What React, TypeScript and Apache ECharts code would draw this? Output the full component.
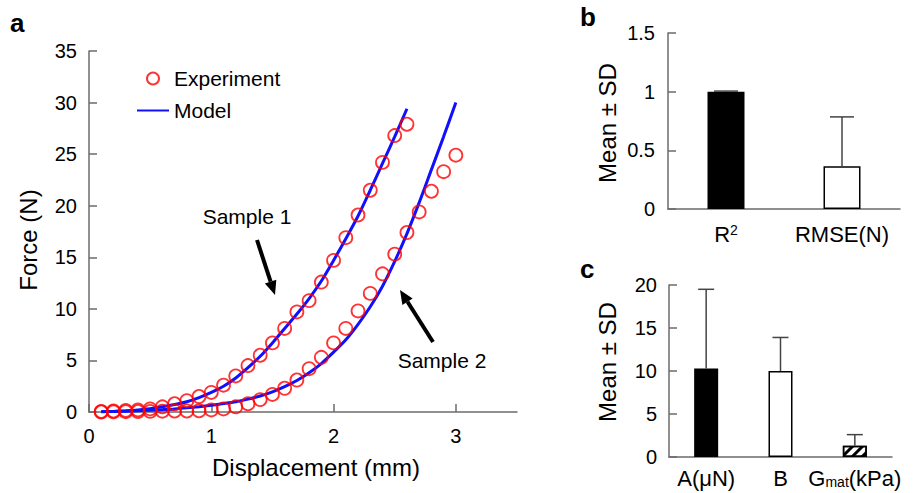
import React, { useEffect, useRef } from "react";
import * as echarts from "echarts";

// ---------- Data ----------
const sample1Disp = [0.1, 0.2, 0.3, 0.4, 0.5, 0.6, 0.7, 0.8, 0.9, 1.0, 1.1, 1.2, 1.3, 1.4, 1.5, 1.6, 1.7, 1.8, 1.9, 2.0, 2.1, 2.2, 2.3, 2.4, 2.5, 2.6];
const sample1Exp = [0.05, 0.1, 0.15, 0.2, 0.3, 0.5, 0.8, 1.1, 1.5, 1.9, 2.6, 3.5, 4.5, 5.5, 6.7, 8.1, 9.7, 10.8, 12.6, 14.7, 16.9, 19.1, 21.5, 24.2, 26.8, 27.9];
const sample1Model = [0.02, 0.06, 0.12, 0.2, 0.32, 0.5, 0.72, 1.0, 1.4, 1.9, 2.5, 3.3, 4.3, 5.4, 6.7, 8.1, 9.5, 11.0, 12.7, 14.7, 16.8, 19.0, 21.5, 24.1, 26.7, 29.4];

const sample2Disp = [0.1, 0.2, 0.3, 0.4, 0.5, 0.6, 0.7, 0.8, 0.9, 1.0, 1.1, 1.2, 1.3, 1.4, 1.5, 1.6, 1.7, 1.8, 1.9, 2.0, 2.1, 2.2, 2.3, 2.4, 2.5, 2.6, 2.7, 2.8, 2.9, 3.0];
const sample2Exp = [0.0, 0.02, 0.03, 0.05, 0.06, 0.08, 0.1, 0.1, 0.12, 0.2, 0.3, 0.5, 0.8, 1.2, 1.7, 2.3, 3.1, 4.2, 5.3, 6.7, 8.1, 9.8, 11.5, 13.4, 15.3, 17.4, 19.4, 21.4, 23.3, 24.9];
const sample2Model = [0.02, 0.05, 0.08, 0.12, 0.17, 0.23, 0.3, 0.4, 0.52, 0.66, 0.82, 1.0, 1.25, 1.55, 1.95, 2.45, 3.05, 3.8, 4.7, 5.8, 7.0, 8.5, 10.2, 12.2, 14.6, 17.3, 20.3, 23.5, 26.7, 30.0];

const xTicks = [0, 1, 2, 3];

const bCategories = ["R²", "RMSE(N)"];
const bMeans = [1.0, 0.365];
const bSD = [0.005, 0.42];

const cCategories = ["A(μN)", "B", "Gmat(kPa)"];
const cMeans = [10.3, 10.0, 1.3];
const cSD = [9.2, 3.9, 1.3];

const FONT = "'Liberation Sans', Arial, sans-serif";
const AXIS_COLOR = "#6b6b6b";

const zip = (xs: number[], ys: number[]) => xs.map((x, i) => [x, ys[i]]);

function errorBarRenderer(cap: number) {
  return (params: any, api: any) => {
    const i = api.value(0);
    const m = api.value(1);
    const s = api.value(2);
    const p0 = api.coord([i, m]);
    const p1 = api.coord([i, m + s]);
    const style = { stroke: "#444", lineWidth: 1.5 };
    return {
      type: "group",
      children: [
        { type: "line", shape: { x1: p0[0], y1: p0[1], x2: p1[0], y2: p1[1] }, style },
        { type: "line", shape: { x1: p1[0] - cap / 2, y1: p1[1], x2: p1[0] + cap / 2, y2: p1[1] }, style },
      ],
    };
  };
}

export default function App() {
  const ref = useRef<HTMLDivElement>(null);
  useEffect(() => {
    if (!ref.current) return;
    const chart = echarts.init(ref.current, null, { renderer: "svg" });

    const axisLine = { show: true, lineStyle: { color: AXIS_COLOR, width: 1.5 } };
    const axisTickIn = { show: true, inside: true, length: 8, lineStyle: { color: AXIS_COLOR, width: 1.5 } };

    const bBarColors = ["#000", "#fff"];
    const cBarStyles: any[] = [
      { color: "#000" },
      { color: "#fff" },
      {
        color: "#fff",
        decal: { symbol: "rect", color: "#000", dashArrayX: [1, 0], dashArrayY: [3, 4], rotation: -Math.PI / 4 },
      },
    ];

    const option: any = {
      animation: false,
      textStyle: { fontFamily: FONT },
      grid: [
        { left: 89, top: 51, width: 428, height: 361 },
        { left: 668, top: 33, width: 232, height: 176 },
        { left: 669, top: 285, width: 223, height: 172 },
      ],
      legend: {
        data: [
          { name: "Experiment" },
          { name: "Model", itemStyle: { opacity: 0 } },
        ],
        orient: "vertical",
        left: 136,
        top: 68,
        padding: 0,
        itemWidth: 32,
        itemHeight: 12,
        itemGap: 11,
        selectedMode: false,
        textStyle: { fontSize: 21, color: "#000", fontFamily: FONT },
      },
      xAxis: [
        {
          gridIndex: 0,
          type: "value",
          min: 0,
          max: 3.5,
          interval: 1,
          axisLine,
          axisTick: { ...axisTickIn, customValues: xTicks },
          axisLabel: { customValues: xTicks, fontSize: 20, color: "#000", margin: 14, fontFamily: FONT },
          splitLine: { show: false },
        },
        {
          gridIndex: 1,
          type: "category",
          data: bCategories,
          axisLine,
          axisTick: { show: false },
          axisLabel: {
            interval: 0,
            fontSize: 22,
            color: "#000",
            margin: 14,
            fontFamily: FONT,
            formatter: (v: string) => (v === "R²" ? "R{sup|2}" : v),
            rich: { sup: { fontSize: 14, verticalAlign: "top", color: "#000", fontFamily: FONT } },
          },
        },
        {
          gridIndex: 2,
          type: "category",
          data: cCategories,
          axisLine,
          axisTick: { show: false },
          axisLabel: {
            interval: 0,
            hideOverlap: false,
            fontSize: 22,
            color: "#000",
            margin: 10,
            fontFamily: FONT,
            formatter: (v: string) => (v === "Gmat(kPa)" ? "G{sub|mat}(kPa)" : v),
            rich: { sub: { fontSize: 14, verticalAlign: "bottom", color: "#000", fontFamily: FONT, padding: [8, 0, 0, 0] } },
          },
        },
      ],
      yAxis: [
        {
          gridIndex: 0,
          type: "value",
          min: 0,
          max: 35,
          interval: 5,
          axisLine,
          axisTick: axisTickIn,
          axisLabel: { fontSize: 20, color: "#000", margin: 12, fontFamily: FONT },
          splitLine: { show: false },
        },
        {
          gridIndex: 1,
          type: "value",
          min: 0,
          max: 1.5,
          interval: 0.5,
          axisLine,
          axisTick: axisTickIn,
          axisLabel: { fontSize: 20, color: "#000", margin: 13, fontFamily: FONT },
          splitLine: { show: false },
        },
        {
          gridIndex: 2,
          type: "value",
          min: 0,
          max: 20,
          interval: 5,
          axisLine,
          axisTick: axisTickIn,
          axisLabel: { fontSize: 20, color: "#000", margin: 12, fontFamily: FONT },
          splitLine: { show: false },
        },
      ],
      series: [
        {
          name: "Model",
          type: "line",
          xAxisIndex: 0,
          yAxisIndex: 0,
          data: zip(sample1Disp, sample1Model),
          symbol: "none",
          smooth: 0.3,
          lineStyle: { color: "#1010ff", width: 3 },
          itemStyle: { color: "#1010ff" },
          z: 2,
        },
        {
          name: "Model",
          type: "line",
          xAxisIndex: 0,
          yAxisIndex: 0,
          data: zip(sample2Disp, sample2Model),
          symbol: "none",
          smooth: 0.3,
          lineStyle: { color: "#1010ff", width: 3 },
          itemStyle: { color: "#1010ff" },
          z: 2,
        },
        {
          name: "Experiment",
          type: "scatter",
          xAxisIndex: 0,
          yAxisIndex: 0,
          data: zip(sample1Disp, sample1Exp),
          symbol: "circle",
          symbolSize: 13,
          itemStyle: { color: "rgba(0,0,0,0)", borderColor: "#ff0000", borderWidth: 1.8 },
          z: 3,
        },
        {
          name: "Experiment",
          type: "scatter",
          xAxisIndex: 0,
          yAxisIndex: 0,
          data: zip(sample2Disp, sample2Exp),
          symbol: "circle",
          symbolSize: 13,
          itemStyle: { color: "rgba(0,0,0,0)", borderColor: "#ff0000", borderWidth: 1.8 },
          z: 3,
        },
        {
          type: "bar",
          xAxisIndex: 1,
          yAxisIndex: 1,
          barWidth: 37,
          data: bMeans.map((v, i) => ({ value: v, itemStyle: { color: bBarColors[i], borderColor: "#000", borderWidth: 1.5 } })),
        },
        {
          type: "custom",
          xAxisIndex: 1,
          yAxisIndex: 1,
          data: bMeans.map((v, i) => [i, v, bSD[i]]),
          encode: { x: 0, y: 1 },
          renderItem: errorBarRenderer(24),
          z: 5,
        },
        {
          type: "bar",
          xAxisIndex: 2,
          yAxisIndex: 2,
          barWidth: 24,
          data: cMeans.map((v, i) => ({ value: v, itemStyle: { ...cBarStyles[i], borderColor: "#000", borderWidth: 1.5 } })),
        },
        {
          type: "custom",
          xAxisIndex: 2,
          yAxisIndex: 2,
          data: cMeans.map((v, i) => [i, v, cSD[i]]),
          encode: { x: 0, y: 1 },
          renderItem: errorBarRenderer(16),
          z: 5,
        },
      ],
      graphic: [
        { type: "text", left: 10, top: 10, style: { text: "a", fontSize: 26, fontWeight: "bold", fill: "#000", fontFamily: FONT } },
        { type: "text", left: 580, top: 4, style: { text: "b", fontSize: 26, fontWeight: "bold", fill: "#000", fontFamily: FONT } },
        { type: "text", left: 580, top: 256, style: { text: "c", fontSize: 26, fontWeight: "bold", fill: "#000", fontFamily: FONT } },
        {
          type: "text",
          x: 28,
          y: 240,
          rotation: Math.PI / 2,
          style: { text: "Force (N)", fontSize: 24, fill: "#000", fontFamily: FONT, align: "center", verticalAlign: "middle" },
        },
        {
          type: "text",
          x: 316,
          y: 467,
          style: { text: "Displacement (mm)", fontSize: 24, fill: "#000", fontFamily: FONT, align: "center", verticalAlign: "middle" },
        },
        {
          type: "text",
          x: 607,
          y: 123,
          rotation: Math.PI / 2,
          style: { text: "Mean ± SD", fontSize: 24, fill: "#000", fontFamily: FONT, align: "center", verticalAlign: "middle" },
        },
        {
          type: "text",
          x: 607,
          y: 362,
          rotation: Math.PI / 2,
          style: { text: "Mean ± SD", fontSize: 24, fill: "#000", fontFamily: FONT, align: "center", verticalAlign: "middle" },
        },
        {
          type: "text",
          x: 247,
          y: 216,
          style: { text: "Sample 1", fontSize: 21, fill: "#000", fontFamily: FONT, align: "center", verticalAlign: "middle" },
        },
        {
          type: "text",
          x: 442,
          y: 360,
          style: { text: "Sample 2", fontSize: 21, fill: "#000", fontFamily: FONT, align: "center", verticalAlign: "middle" },
        },
        { type: "line", shape: { x1: 257, y1: 240, x2: 270.6, y2: 281.7 }, style: { stroke: "#000", lineWidth: 4 } },
        { type: "polygon", shape: { points: [[275, 295], [276.3, 279.8], [264.9, 283.6]] }, style: { fill: "#000" } },
        { type: "line", shape: { x1: 433, y1: 342, x2: 407.5, y2: 301.8 }, style: { stroke: "#000", lineWidth: 4 } },
        { type: "polygon", shape: { points: [[400, 290], [412.6, 298.6], [402.4, 305.0]] }, style: { fill: "#000" } },
      ],
    };
    chart.setOption(option);
    return () => chart.dispose();
  }, []);

  return <div ref={ref} style={{ position: "fixed", left: 0, top: 0, width: 922, height: 493, background: "#fff" }} />;
}
